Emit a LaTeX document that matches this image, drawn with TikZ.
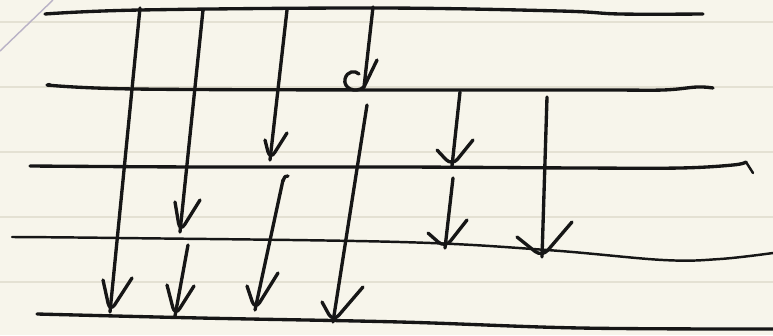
\documentclass[tikz,border=0pt]{standalone}
\usepackage{xcolor}
\usepackage{tikz}
\definecolor{paper}{HTML}{F7F5EB}
\definecolor{ruleln}{HTML}{E4E1D3}
\definecolor{ink}{HTML}{161616}
\definecolor{pencil}{HTML}{B9B2C6}

\begin{document}
\begin{tikzpicture}[x=0.02cm,y=-0.02cm,
    stroke/.style={draw=ink,line width=1.9pt,line cap=round,line join=round},
    thinstroke/.style={stroke,line width=1.4pt},
    rule/.style={draw=ruleln,line width=1.1pt},
    vhead/.style={stroke,rounded corners=5pt}
  ]
  % paper with ruling
  \fill[paper] (0,0) rectangle (773,335);
  \useasboundingbox (0,0) rectangle (773,335);
  \foreach \y in {22,87,152,217,282}
    \draw[rule] (0,\y) -- (773,\y);
  \draw[pencil,line width=0.8pt] (0,51) -- (53,0);

  % the five levels
  \draw[stroke] plot[smooth,tension=0.6] coordinates
    {(45,14) (140,10) (380,8) (560,11) (620,14) (703,14)};
  \draw[stroke] plot[smooth,tension=0.6] coordinates
    {(47,85) (135,89) (400,90) (600,90) (663,90) (697,87) (713,88)};
  \fill[ink] (49,85) circle (2.2);
  \draw[stroke] plot[smooth,tension=0.6] coordinates
    {(30,166) (200,167) (400,167) (580,168) (680,168) (733,165) (746,162)};
  \draw[thinstroke] (746,162) -- (753,173);
  \draw[thinstroke] plot[smooth,tension=0.6] coordinates
    {(12,237) (120,238) (400,242) (547,250) (663,260) (720,259) (773,253)};
  \draw[stroke] plot[smooth,tension=0.6] coordinates
    {(37,314) (200,318) (400,322) (580,328) (773,329)};

  % downward arrows: start / tip / left arm / right arm
  \foreach \sx/\sy/\tx/\ty/\lx/\ly/\rx/\ry in {
      140/8/110/312/103/280/132/278,
      203/10/180/232/175/202/200/200,
      287/10/270/160/265/140/287/133,
      367/105/333/322/322/302/363/287,
      283/180/255/310/247/286/278/273,
      188/245/175/316/167/285/194/286,
      460/92/452/166/437/150/473/140,
      453/178/445/248/428/233/467/220,
      547/97/542/257/517/237/572/222}{
    \draw[stroke] (\sx,\sy) -- (\tx,\ty);
    \draw[vhead] (\lx,\ly) -- (\tx,\ty) -- (\rx,\ry);
  }
  \draw[stroke] (288,176) .. controls (285,176) .. (283,181);

  % curled arrow into the second level
  \draw[stroke] (373,7) -- (364,87);
  \draw[stroke] (377,60) -- (364,87) .. controls (355,94) and (343,88) .. (345,79)
    .. controls (347,71) and (355,70) .. (359,74);
\end{tikzpicture}
\end{document}
